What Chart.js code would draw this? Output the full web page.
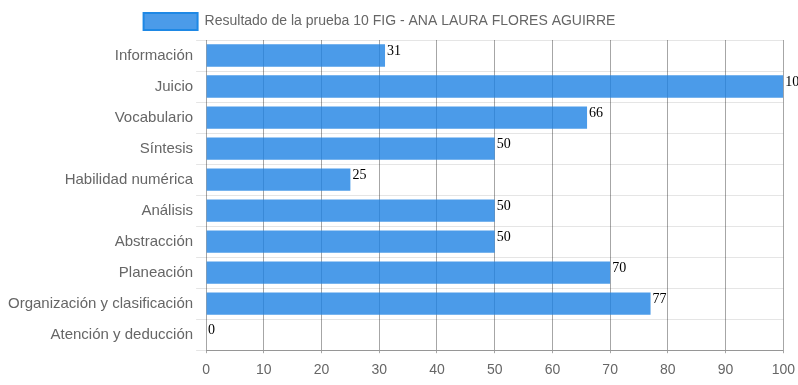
<!DOCTYPE html>
<html>
<head>
<meta charset="utf-8">
<script src="https://cdn.jsdelivr.net/npm/chart.js@4"></script>
<style>
  html, body { margin: 0; padding: 0; background: #fff; }
  #wrap { width: 798px; height: 385px; }
</style>
</head>
<body>
<div id="wrap"><canvas id="resultChart"></canvas></div>
<script>
// Datos de la prueba
const categories = ['Información', 'Juicio', 'Vocabulario', 'Síntesis', 'Habilidad numérica',
  'Análisis', 'Abstracción', 'Planeación', 'Organización y clasificación', 'Atención y deducción'];
const scores = [31, 100, 66, 50, 25, 50, 50, 70, 77, 0];
const seriesLabel = 'Resultado de la prueba 10 FIG - ANA LAURA FLORES AGUIRRE';
const xTicks = [0, 10, 20, 30, 40, 50, 60, 70, 80, 90, 100];

// numeros al final de cada barra
const barValues = {
  id: 'barValues',
  afterDatasetsDraw(chart) {
    const ctx = chart.ctx;
    const meta = chart.getDatasetMeta(0);
    ctx.save();
    ctx.font = '14px "Liberation Serif", serif';
    ctx.fillStyle = '#000';
    ctx.textBaseline = 'top';
    ctx.textAlign = 'left';
    meta.data.forEach((bar, i) => {
      ctx.fillText(scores[i], bar.x + 2, bar.y - bar.height / 2);
    });
    ctx.restore();
  }
};

// la leyenda va un poco a la izquierda del centro
const legendShift = {
  id: 'legendShift',
  afterLayout(chart) {
    if (chart.legend) {
      chart.legend.left -= 22;
      chart.legend.right -= 22;
    }
  }
};

Chart.defaults.font.family = 'Arial, "Liberation Sans", sans-serif';
Chart.defaults.color = '#666';

const ctx = document.getElementById('resultChart').getContext('2d');
new Chart(ctx, {
  type: 'bar',
  data: {
    labels: categories,
    datasets: [{
      label: seriesLabel,
      data: scores,
      backgroundColor: 'rgba(30, 130, 228, 0.8)',
      borderColor: '#1e88e5',
      borderWidth: 0
    }]
  },
  options: {
    indexAxis: 'y',
    responsive: true,
    maintainAspectRatio: false,
    animation: false,
    layout: { padding: { left: 5, right: 0, top: 1, bottom: -3 } },
    plugins: {
      legend: {
        labels: {
          boxWidth: 54,
          boxHeight: 17,
          padding: 12,
          font: { size: 14 },
          color: '#666',
          generateLabels(chart) {
            const items = Chart.defaults.plugins.legend.labels.generateLabels(chart);
            items.forEach(it => { it.strokeStyle = '#1e88e5'; it.lineWidth = 2; });
            return items;
          }
        }
      },
      tooltip: { enabled: false }
    },
    scales: {
      x: {
        min: 0,
        max: 100,
        afterBuildTicks(axis) { axis.ticks = xTicks.map(v => ({ value: v })); },
        afterFit(axis) { axis.paddingRight = Math.max(axis.paddingRight - 6, 0); },
        grid: { color: 'rgba(0,0,0,0.35)', tickLength: 3 },
        border: { color: 'rgba(0,0,0,0.35)' },
        ticks: { font: { size: 14 }, padding: 9 }
      },
      y: {
        grid: { color: 'rgba(0,0,0,0.1)', tickLength: 10 },
        border: { display: false },
        ticks: { font: { size: 15 }, padding: 3 }
      }
    }
  },
  plugins: [barValues, legendShift]
});
</script>
</body>
</html>
